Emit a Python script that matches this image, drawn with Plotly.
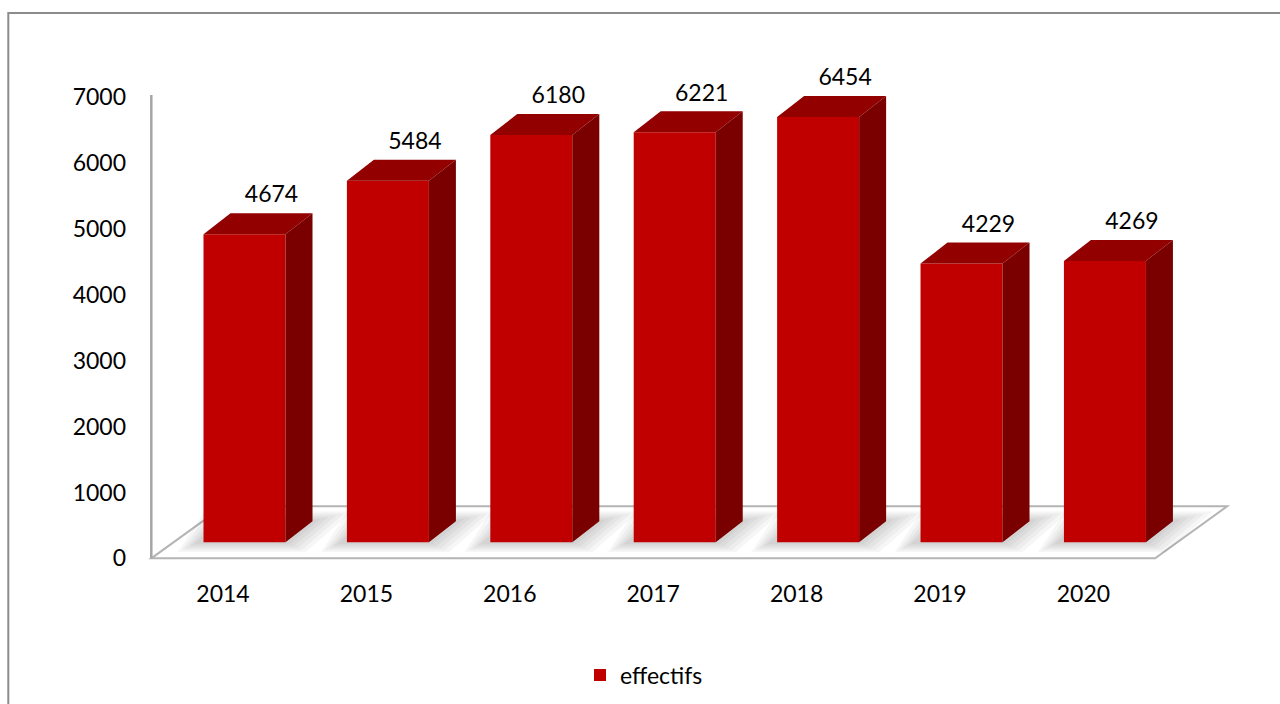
import plotly.graph_objects as go

# ---- data ----
years = ["2014", "2015", "2016", "2017", "2018", "2019", "2020"]
effectifs = [4674, 5484, 6180, 6221, 6454, 4229, 4269]
y_ticks = [0, 1000, 2000, 3000, 4000, 5000, 6000, 7000]
series_name = "effectifs"

# ---- geometry / style constants ----
W, H = 1280, 704
P = 143.4          # px per category
K = 0.06586        # px per value unit
AXIS_X_PX = 151
ZERO_Y_PX = 558
xr = [-0.53, 7.05]
yr = [-40, 7500]

m_l = AXIS_X_PX - (-0.5 - xr[0]) * P
plot_w = (xr[1] - xr[0]) * P
m_r = W - m_l - plot_w
plot_h = (yr[1] - yr[0]) * K
bottom_px = ZERO_Y_PX + (0 - yr[0]) * K
m_b = H - bottom_px
m_t = H - m_b - plot_h

fdx, fdy = 21.5 / P, 16 / K     # front plane of bars
bdx, bdy = 48.5 / P, 37 / K     # back plane of bars
gdx, gdy = 72 / P, 52 / K       # back edge of floor
hw = 41 / P                     # half width of bar front face
label_lift = 5 / K

C_FRONT = "#C00000"
C_TOP = "#930000"
C_SIDE = "#7A0000"
GRAY = "#B4B4B4"
FONT = "Lato"

xs = list(range(len(years)))

fig = go.Figure()

# front faces (bars)
fig.add_trace(go.Bar(
    x=[i + fdx for i in xs], y=effectifs, base=fdy, width=2 * hw,
    marker=dict(color=C_FRONT, line=dict(width=0)),
    name=series_name, showlegend=True, hoverinfo="skip"))

# top faces
tx, ty = [], []
for i, v in zip(xs, effectifs):
    xl, xrt = i + fdx - hw, i + fdx + hw
    tx += [xl, xrt, xrt + (bdx - fdx), xl + (bdx - fdx), xl, None]
    ty += [fdy + v, fdy + v, bdy + v, bdy + v, fdy + v, None]
fig.add_trace(go.Scatter(x=tx, y=ty, fill="toself", fillcolor=C_TOP, mode="lines",
                         line=dict(width=0, color=C_TOP), showlegend=False, hoverinfo="skip"))

# side faces
sx, sy = [], []
for i, v in zip(xs, effectifs):
    xrt = i + fdx + hw
    xb = xrt + (bdx - fdx)
    sx += [xrt, xb, xb, xrt, xrt, None]
    sy += [fdy, bdy, bdy + v, fdy + v, fdy, None]
fig.add_trace(go.Scatter(x=sx, y=sy, fill="toself", fillcolor=C_SIDE, mode="lines",
                         line=dict(width=0, color=C_SIDE), showlegend=False, hoverinfo="skip"))

# data labels
fig.add_trace(go.Scatter(
    x=[i + fdx + 27 / P for i in xs], y=[bdy + v + label_lift for v in effectifs],
    mode="text", text=[str(v) for v in effectifs], textposition="top center",
    textfont=dict(family=FONT, size=23, color="#000000"),
    cliponaxis=False, showlegend=False, hoverinfo="skip"))

shapes = []
# floor
shapes.append(dict(
    type="path", xref="x", yref="y", layer="below",
    path=f"M {-0.5} 0 L {6.5} 0 L {6.5 + gdx} {gdy} L {-0.5 + gdx} {gdy} Z",
    fillcolor="white", line=dict(color=GRAY, width=2)))
# soft shadows
for i in xs:
    for grow in [20, 16, 12, 8, 4]:
        gx = grow / P
        gy = grow / K * 0.5
        x0 = i + fdx - hw - gx - 6 / P
        x1 = i + fdx + hw + gx
        shapes.append(dict(
            type="path", xref="x", yref="y", layer="below",
            path=(f"M {x0} {fdy - gy} L {x1} {fdy - gy} "
                  f"L {x1 + (bdx - fdx) + gx} {bdy + gy} L {x0 + (bdx - fdx)} {bdy + gy} Z"),
            fillcolor="rgba(0,0,0,0.035)", line=dict(width=0)))
# vertical axis line
shapes.append(dict(type="line", xref="x", yref="y", x0=-0.5, x1=-0.5, y0=0, y1=7030,
                   line=dict(color="#A6A6A6", width=2.5), layer="above"))


def px_to_paper_x(px):
    return (px - m_l) / plot_w


def px_to_paper_y(py):
    return (bottom_px - py) / plot_h


# outer border
shapes.append(dict(type="rect", xref="paper", yref="paper",
                   x0=px_to_paper_x(8), x1=px_to_paper_x(1300),
                   y0=px_to_paper_y(730), y1=px_to_paper_y(13),
                   line=dict(color="#8C8C8C", width=2), fillcolor="rgba(0,0,0,0)", layer="below"))

fig.update_layout(
    width=W, height=H,
    margin=dict(l=m_l, r=m_r, t=m_t, b=m_b, pad=0, autoexpand=False),
    paper_bgcolor="white", plot_bgcolor="rgba(0,0,0,0)",
    shapes=shapes,
    font=dict(family=FONT, size=23, color="#000000"),
    xaxis=dict(range=xr, tickmode="array", tickvals=xs, ticktext=years, automargin=False,
               showgrid=False, zeroline=False, showline=False, ticks="",
               ticklabelstandoff=17, tickfont=dict(family=FONT, size=23, color="#000000")),
    yaxis=dict(range=yr, tickmode="array", tickvals=y_ticks, ticktext=[str(t) for t in y_ticks],
               automargin=False,
               showgrid=False, zeroline=False, showline=False, ticks="",
               ticklabelstandoff=20, tickfont=dict(family=FONT, size=23, color="#000000")),
    legend=dict(orientation="h", xref="container", yref="container",
                x=580 / W, xanchor="left",
                y=(H - 675) / H, yanchor="middle",
                font=dict(family=FONT, size=23, color="#000000"),
                bgcolor="rgba(0,0,0,0)"),
    barmode="overlay",
    hovermode=False,
)

fig.write_html("out.html")
